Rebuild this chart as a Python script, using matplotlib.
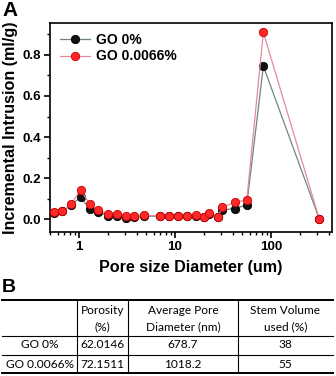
import matplotlib
matplotlib.use("Agg")
import matplotlib.pyplot as plt
from matplotlib.ticker import MultipleLocator, LogLocator, NullFormatter, FixedLocator

# ---- data ----
pore_diameter = [0.553, 0.670, 0.826, 1.04, 1.30, 1.59, 2.02, 2.47, 3.09, 3.77, 4.75,
                 6.98, 8.72, 10.7, 13.2, 16.4, 20.0, 22.8, 28.2, 30.6, 42.2, 55.8, 83.0, 318.0]
go0 = [0.032, 0.038, 0.070, 0.107, 0.050, 0.033, 0.017, 0.016, 0.008, 0.009, 0.015,
       0.015, 0.015, 0.016, 0.016, 0.017, 0.012, 0.028, 0.010, 0.045, 0.052, 0.070, 0.745, 0.0]
go66 = [0.036, 0.040, 0.072, 0.144, 0.072, 0.043, 0.028, 0.028, 0.015, 0.015, 0.019,
        0.017, 0.017, 0.018, 0.018, 0.019, 0.013, 0.032, 0.013, 0.058, 0.083, 0.093, 0.909, 0.0]
series_labels = ["GO 0%", "GO 0.0066%"]
y_ticks = [0.0, 0.2, 0.4, 0.6, 0.8]
x_ticks = [1, 10, 100]

table_header = [["", "Porosity", "Average Pore", "Stem Volume"],
                ["", "(%)", "Diameter (nm)", "used (%)"]]
table_rows = [["GO 0%", "62.0146", "678.7", "38"],
              ["GO 0.0066%", "72.1511", "1018.2", "55"]]

W, H = 336, 376
fig = plt.figure(figsize=(W / 100, H / 100), dpi=100)
bold = dict(family="Liberation Sans", fontweight="bold")

ax = fig.add_axes([50 / W, 1 - 232 / H, 282 / W, 209 / H])
ax.plot(pore_diameter, go0, color="#6f8585", lw=0.9, marker="o", ms=6.0,
        mfc="#111111", mec="#000000", mew=0.6, label=series_labels[0], zorder=3)
ax.plot(pore_diameter, go66, color="#e58a9c", lw=0.9, marker="o", ms=6.0,
        mfc="#ff2828", mec="#c80000", mew=0.6, label=series_labels[1], zorder=4)
ax.set_xscale("log")
ax.set_xlim(0.5, 430)
ax.set_ylim(-0.062, 0.955)
ax.xaxis.set_major_locator(FixedLocator(x_ticks))
ax.set_xticklabels([str(t) for t in x_ticks])
ax.xaxis.set_minor_locator(LogLocator(base=10, subs=range(2, 10), numticks=20))
ax.xaxis.set_minor_formatter(NullFormatter())
ax.set_yticks(y_ticks)
ax.set_yticklabels([f"{t:.1f}" for t in y_ticks])
ax.yaxis.set_minor_locator(MultipleLocator(0.1))
ax.tick_params(which="major", direction="out", length=4, width=1.2, labelsize=9.6, pad=2.5)
ax.tick_params(which="minor", direction="out", length=2.2, width=1.0)
for lab in ax.get_xticklabels() + ax.get_yticklabels():
    lab.set_fontfamily("Liberation Sans")
    lab.set_fontweight("bold")
for s in ax.spines.values():
    s.set_linewidth(1.2)
ax.set_xlabel("Pore size Diameter (um)", fontsize=11.6, labelpad=5, **bold)
ax.set_ylabel("Incremental Intrusion (ml/g)", fontsize=11.6, labelpad=3, **bold)
leg = ax.legend(loc="upper left", frameon=False, prop=dict(family="Liberation Sans", weight="bold", size=10),
                handlelength=2.2, handletextpad=0.4, borderaxespad=0.3, labelspacing=0.2)

fig.text(2 / W, 1 - 11 / H, "A", fontsize=15, va="center", ha="left", **bold)
fig.text(2 / W, 1 - 287 / H, "B", fontsize=14, va="center", ha="left", **bold)

# ---- table ----
tax = fig.add_axes([0, 0, 1, 1], zorder=-1)
tax.set_xlim(0, W)
tax.set_ylim(H, 0)
tax.axis("off")
col_edges = [2, 77, 128, 238, 333]
col_centers = [(col_edges[i] + col_edges[i + 1]) / 2 for i in range(4)]
tax.plot([col_edges[0], col_edges[-1]], [299.5, 299.5], color="black", lw=1.4)
tax.plot([col_edges[0], col_edges[-1]], [373, 373], color="black", lw=1.4)
tax.plot([col_edges[0], col_edges[-1]], [335.5, 335.5], color="black", lw=0.8)
tax.plot([col_edges[0], col_edges[-1]], [354.5, 354.5], color="black", lw=0.8)
for xe in col_edges[1:-1]:
    tax.plot([xe, xe], [299.5, 373], color="black", lw=0.8)
tfont = dict(family="Lato", fontsize=8.6, ha="center", va="center")
for r, yy in zip(table_header, [310, 327]):
    for c, txt in enumerate(r):
        tax.text(col_centers[c], yy, txt, **tfont)
for r, yy in zip(table_rows, [345, 364]):
    for c, txt in enumerate(r):
        tax.text(col_centers[c], yy, txt, **tfont)

fig.savefig("out.png", dpi=100)
